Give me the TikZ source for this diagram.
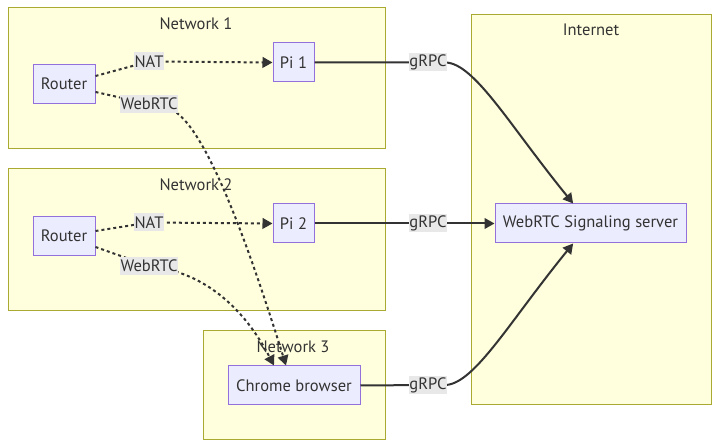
\documentclass[tikz,border=0pt]{standalone}
\usepackage{fontspec}
\setmainfont{PT Sans}
\usetikzlibrary{arrows.meta,fit,calc}
\definecolor{clfill}{HTML}{FFFFDE}
\definecolor{clline}{HTML}{AAAA33}
\definecolor{ndfill}{HTML}{ECECFF}
\definecolor{ndline}{HTML}{9370DB}
\definecolor{txtc}{HTML}{333333}
\definecolor{lblbg}{HTML}{E8E8E8}
\begin{document}
\begin{tikzpicture}[x=0.75pt,y=-0.75pt,
  font=\fontsize{12.4}{14}\selectfont, text=txtc,
  clus/.style={draw=clline, fill=clfill, line width=0.75pt, inner sep=0pt},
  nd/.style={draw=ndline, fill=ndfill, line width=0.75pt, inner sep=0pt, minimum height=29.25pt},
  lbl/.style={fill=lblbg, inner xsep=0.6pt, inner ysep=0pt, minimum height=13.5pt},
  ttl/.style={inner sep=0pt},
  edge/.style={draw=txtc, line width=1.5pt},
  dotedge/.style={edge, dash pattern=on 2.25pt off 2.25pt},
  tip/.style={-{Triangle[length=7.5pt,width=8pt]}}]
\useasboundingbox (0,0) rectangle (719,448);
% clusters
\node[clus, fit={(8,8) (385,149)}] (net1) {};
\node[clus, fit={(8,169) (385,311)}] (net2) {};
\node[clus, fit={(203,331) (385,440)}] (net3) {};
\node[clus, fit={(471,15) (711,405)}] (inet) {};
\node[ttl] (t1) at (196,24) {Network 1};
\node[ttl] (t2) at (196,185) {Network 2};
\node[ttl] (t4) at (591,30) {Internet};
% nodes
\node[nd, minimum width=46.5pt] (r1) at (64,84) {Router};
\node[nd, minimum width=30.75pt] (pi1) at (293.5,62.5) {Pi 1};
\node[nd, minimum width=46.5pt] (r2) at (64,236) {Router};
\node[nd, minimum width=30.75pt] (pi2) at (293.5,223.5) {Pi 2};
\node[nd, minimum width=99pt] (chr) at (294,385.5) {Chrome browser};
\node[nd, minimum width=143.25pt] (srv) at (590.5,223.5) {WebRTC Signaling server};
% label positions
\coordinate (nat1) at (149,61.5);
\coordinate (web1) at (149,104);
\coordinate (nat2) at (149,222.5);
\coordinate (web2) at (149,266);
\coordinate (g1) at (428,62.5);
\coordinate (g2) at (428,223.5);
\coordinate (g3) at (428,385);
% edges
\draw[dotedge,tip] ([yshift=6pt]r1.east) -- (nat1) -- (pi1.west);
\draw[dotedge,tip] ([yshift=-6pt]r1.east) -- (web1) -- (170,109) .. controls (205,122) and (250,250) .. ([xshift=-6pt]chr.north);
\draw[dotedge,tip] ([yshift=3.75pt]r2.east) -- (nat2) -- (pi2.west);
\draw[dotedge,tip] ([yshift=-8.25pt]r2.east) -- (web2) -- (170,270) .. controls (210,280) and (245,310) .. ([xshift=-15pt]chr.north);
\draw[edge,tip] (pi1.east) -- (g1) -- (446,62.5) .. controls (475,64) and (510,126) .. ([xshift=-13pt]srv.north);
\draw[edge,tip] (pi2.east) -- (srv.west);
\draw[edge,tip] (chr.east) -- (g3) -- (446,385) .. controls (475,383) and (510,321) .. ([xshift=-13pt]srv.south);
\node[ttl] (t3) at (293,347) {Network 3};
% labels
\node[lbl] (lnat1) at (nat1) {NAT};
\node[lbl] (lweb1) at (web1) {WebRTC};
\node[lbl] (lnat2) at (nat2) {NAT};
\node[lbl] (lweb2) at (web2) {WebRTC};
\node[lbl] (lg1) at (g1) {gRPC};
\node[lbl] (lg2) at (g2) {gRPC};
\node[lbl] (lg3) at (g3) {gRPC};
\end{tikzpicture}
\end{document}
